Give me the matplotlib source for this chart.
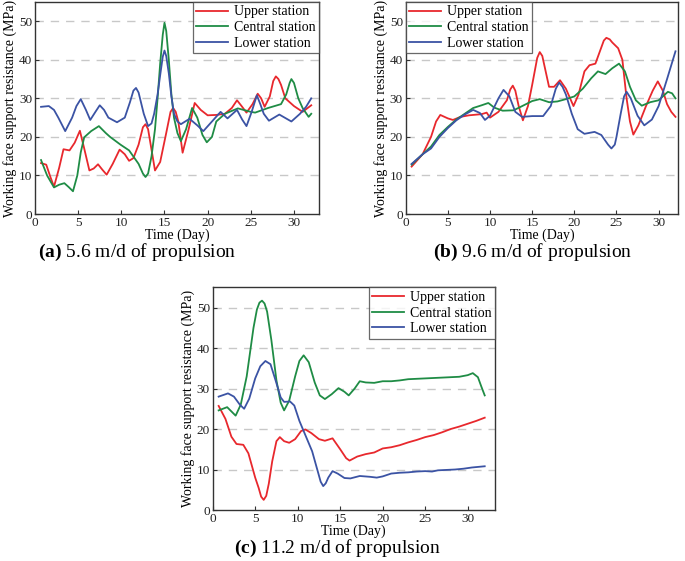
import numpy as np
import matplotlib
matplotlib.use('Agg')
from matplotlib import pyplot as plt

plt.rcParams['font.family'] = ['Liberation Serif', 'DejaVu Serif']
plt.rcParams['mathtext.fontset'] = 'custom'
plt.rcParams['mathtext.rm'] = 'Liberation Serif'
plt.rcParams['mathtext.bf'] = 'Liberation Serif:bold'

labels = ['Upper station', 'Central station', 'Lower station']
colors = ['#e8282d', '#1f8c45', '#3b53a4']

# (a) 5.6 m/d
a_up_x = [0.7, 1.3, 1.8, 2.2, 2.8, 3.3, 4.0, 4.6, 5.2, 5.7, 6.3, 6.8, 7.3, 7.8, 8.3, 9.0, 9.8, 10.4, 10.9, 11.4, 12.0, 12.5, 12.8, 13.1, 13.4, 13.9, 14.5, 15.2, 15.7, 16.0, 16.3, 16.6, 17.1, 17.8, 18.5, 19.2, 20.0, 21.0, 22.0, 22.8, 23.4, 24.0, 24.5, 25.2, 25.8, 26.2, 26.6, 27.2, 27.6, 27.9, 28.2, 28.5, 29.0, 30.0, 31.0, 32.0]
a_up_y = [13.2, 12.8, 9.5, 7.1, 12.0, 16.8, 16.5, 18.5, 21.6, 17.0, 11.3, 11.8, 12.9, 11.5, 10.2, 13.0, 16.7, 15.5, 13.8, 14.5, 18.0, 22.5, 23.3, 22.0, 18.0, 11.3, 13.5, 21.0, 26.5, 27.5, 26.5, 24.0, 15.9, 22.0, 28.8, 27.0, 25.6, 25.7, 26.0, 27.5, 29.5, 27.8, 26.3, 28.5, 31.2, 30.0, 27.8, 30.5, 34.5, 35.7, 35.0, 33.5, 30.0, 28.0, 26.5, 28.2]
a_mid_x = [0.7, 1.4, 2.2, 2.8, 3.4, 3.9, 4.4, 4.9, 5.3, 5.7, 6.5, 7.4, 8.2, 8.7, 9.9, 10.9, 12.0, 12.5, 12.8, 13.1, 13.5, 13.9, 14.2, 14.5, 14.8, 15.0, 15.2, 15.5, 15.8, 16.1, 16.5, 16.9, 17.5, 18.2, 18.8, 19.4, 19.9, 20.5, 21.0, 22.0, 23.5, 25.0, 25.5, 27.0, 28.5, 29.1, 29.5, 29.7, 30.0, 30.5, 31.0, 31.3, 31.7, 32.0]
a_mid_y = [14.0, 10.0, 6.9, 7.6, 8.0, 7.0, 5.9, 10.0, 16.0, 19.9, 21.5, 22.8, 21.0, 20.0, 18.0, 16.5, 13.0, 10.5, 9.6, 10.5, 15.0, 22.0, 30.0, 39.0, 46.5, 49.6, 47.5, 40.0, 31.0, 25.0, 21.0, 18.9, 22.0, 27.5, 25.0, 20.5, 18.6, 20.0, 24.0, 26.0, 27.4, 26.5, 26.3, 27.5, 28.5, 31.0, 34.0, 35.0, 34.0, 30.0, 27.5, 26.5, 25.2, 26.0]
a_low_x = [0.7, 1.6, 2.2, 2.7, 3.5, 4.3, 4.8, 5.3, 5.9, 6.4, 7.0, 7.5, 8.0, 8.5, 9.5, 10.4, 11.0, 11.4, 11.7, 12.0, 12.6, 13.1, 13.5, 13.8, 14.2, 14.5, 14.8, 15.0, 15.2, 15.5, 15.8, 16.1, 16.5, 16.9, 17.9, 18.8, 19.5, 20.5, 21.5, 22.3, 23.4, 24.0, 24.5, 25.1, 25.7, 26.1, 26.5, 27.1, 28.3, 29.7, 30.7, 31.4, 32.0]
a_low_y = [27.8, 28.0, 27.0, 25.0, 21.5, 25.0, 28.0, 29.8, 27.0, 24.4, 26.5, 28.2, 27.0, 25.0, 23.8, 25.0, 29.0, 32.0, 32.7, 31.5, 26.0, 22.8, 23.5, 26.0, 31.0, 36.0, 40.8, 42.4, 41.0, 36.5, 30.5, 26.0, 24.0, 23.3, 24.7, 23.0, 21.5, 24.0, 26.5, 24.8, 27.0, 24.5, 22.8, 26.5, 30.8, 28.5, 26.0, 24.2, 25.8, 24.0, 26.0, 27.8, 30.0]

# (b) 9.6 m/d
b_up_x = [0.7, 2.0, 3.0, 3.6, 4.1, 5.0, 5.6, 6.5, 7.5, 9.0, 9.6, 10.0, 11.0, 12.0, 12.4, 12.7, 13.0, 13.4, 13.9, 14.5, 15.0, 15.3, 15.6, 15.9, 16.2, 16.5, 17.0, 17.6, 18.3, 19.0, 19.5, 19.9, 20.5, 21.2, 21.8, 22.5, 23.0, 23.5, 23.8, 24.2, 24.5, 25.2, 25.7, 26.2, 26.6, 27.0, 27.6, 28.5, 29.3, 29.9, 30.5, 31.0, 31.5, 32.0]
b_up_y = [12.3, 15.5, 20.0, 24.0, 25.7, 24.8, 24.4, 25.2, 25.6, 25.9, 26.3, 25.0, 26.5, 29.5, 32.3, 33.3, 32.0, 28.0, 24.3, 28.0, 33.5, 37.0, 40.5, 42.0, 41.0, 38.0, 33.0, 33.0, 34.7, 32.5, 30.0, 28.0, 31.0, 37.0, 38.6, 39.0, 42.0, 45.0, 45.7, 45.3, 44.5, 43.0, 40.0, 30.0, 24.0, 20.6, 23.0, 28.0, 32.0, 34.4, 32.0, 28.5, 26.5, 25.2]
b_mid_x = [0.7, 2.0, 3.0, 4.0, 5.0, 6.0, 7.0, 8.0, 9.0, 9.8, 10.5, 11.5, 12.8, 14.0, 15.0, 15.9, 17.0, 18.0, 19.0, 20.0, 21.0, 22.0, 22.8, 23.7, 24.5, 25.3, 26.0, 26.6, 27.3, 28.0, 29.0, 30.0, 30.5, 31.1, 31.6, 32.0]
b_mid_y = [12.8, 15.5, 17.5, 20.5, 22.6, 24.5, 26.0, 27.5, 28.2, 28.8, 27.6, 26.8, 26.9, 28.2, 29.3, 29.8, 29.0, 29.2, 29.8, 30.5, 32.5, 35.2, 37.0, 36.3, 37.8, 39.0, 37.0, 33.0, 29.5, 28.1, 29.0, 29.5, 30.5, 31.7, 31.3, 30.0]
b_low_x = [0.7, 2.0, 3.0, 4.0, 5.0, 6.0, 7.0, 8.0, 8.8, 9.4, 10.0, 11.0, 11.6, 12.3, 13.0, 13.8, 15.0, 16.3, 17.2, 17.8, 18.2, 18.6, 19.0, 19.7, 20.4, 21.2, 22.4, 23.2, 24.0, 24.4, 24.8, 25.0, 25.5, 25.9, 26.2, 26.7, 27.5, 28.3, 29.2, 30.0, 31.0, 32.0]
b_low_y = [13.0, 15.5, 17.0, 20.0, 22.3, 24.3, 25.8, 27.0, 26.2, 24.4, 25.5, 30.0, 32.2, 30.5, 26.5, 25.2, 25.4, 25.4, 28.0, 32.5, 34.1, 33.0, 31.0, 26.0, 22.0, 20.8, 21.3, 20.5, 18.0, 17.0, 18.0, 20.0, 26.0, 30.5, 31.7, 30.0, 25.5, 23.0, 24.5, 28.0, 35.0, 42.2]

# (c) 11.2 m/d
c_up_x = [0.7, 1.5, 2.2, 2.8, 3.6, 4.2, 5.0, 5.4, 5.7, 6.0, 6.3, 6.6, 7.0, 7.5, 7.9, 8.4, 9.0, 9.7, 10.4, 10.9, 11.6, 12.5, 13.2, 14.1, 15.0, 15.7, 16.1, 17.0, 18.0, 19.0, 20.0, 21.0, 22.0, 23.0, 24.0, 25.0, 26.0, 27.0, 28.0, 29.0, 30.0, 31.0, 32.0]
c_up_y = [25.7, 22.5, 18.1, 16.3, 16.1, 14.0, 8.0, 5.5, 3.3, 2.5, 3.5, 6.5, 12.0, 17.0, 18.0, 17.0, 16.6, 17.5, 19.5, 19.9, 19.0, 17.5, 17.1, 17.7, 15.0, 12.8, 12.2, 13.2, 13.8, 14.2, 15.2, 15.5, 16.0, 16.7, 17.3, 18.0, 18.5, 19.2, 20.0, 20.6, 21.3, 22.0, 22.8]
c_mid_x = [0.7, 1.7, 2.7, 3.3, 4.0, 4.8, 5.2, 5.5, 5.8, 6.1, 6.4, 6.9, 7.5, 8.0, 8.4, 9.0, 9.7, 10.2, 10.7, 11.3, 12.0, 12.6, 13.2, 14.0, 14.8, 15.5, 16.0, 16.7, 17.3, 18.0, 19.0, 20.0, 21.0, 22.0, 23.0, 24.0, 25.0, 26.0, 27.0, 28.0, 29.0, 30.0, 30.6, 31.2, 31.6, 32.0]
c_mid_y = [24.6, 25.4, 23.3, 26.0, 33.0, 45.0, 49.5, 51.2, 51.7, 51.0, 49.0, 42.0, 32.0, 26.5, 24.6, 27.0, 33.0, 36.8, 38.2, 36.5, 31.5, 28.3, 27.4, 28.6, 30.1, 29.2, 28.3, 30.0, 31.8, 31.5, 31.4, 31.8, 31.8, 32.0, 32.3, 32.4, 32.5, 32.6, 32.7, 32.8, 32.9, 33.3, 33.8, 32.8, 30.5, 28.3]
c_low_x = [0.7, 1.8, 2.5, 3.2, 3.7, 4.3, 5.0, 5.6, 6.2, 6.8, 7.4, 8.0, 8.4, 9.1, 9.6, 10.2, 11.0, 11.7, 12.3, 12.7, 13.0, 13.3, 13.6, 14.1, 14.7, 15.5, 16.2, 17.3, 18.5, 19.3, 20.0, 21.0, 22.0, 23.0, 24.0, 25.0, 25.8, 26.5, 27.5, 28.5, 29.5, 30.5, 32.0]
c_low_y = [28.0, 28.8, 28.0, 26.0, 25.0, 27.5, 32.5, 35.5, 36.8, 36.0, 32.0, 27.8, 26.7, 26.8, 25.8, 22.0, 18.0, 14.5, 10.0, 7.0, 5.9, 6.6, 8.0, 9.6, 9.0, 7.9, 7.8, 8.4, 8.2, 8.0, 8.3, 9.0, 9.2, 9.3, 9.5, 9.6, 9.5, 9.8, 9.9, 10.0, 10.2, 10.5, 10.8]

panels = [
    ([(a_up_x, a_up_y), (a_mid_x, a_mid_y), (a_low_x, a_low_y)],
     [0.0511, 0.6185, 0.4146, 0.378], 32.9, 'upper right',
     r'$\mathbf{(a)}$ 5.6 m/d of propulsion', (0.200, 0.550)),
    ([(b_up_x, b_up_y), (b_mid_x, b_mid_y), (b_low_x, b_low_y)],
     [0.5923, 0.6185, 0.3975, 0.378], 32.3, 'upper left',
     r'$\mathbf{(b)}$ 9.6 m/d of propulsion', (0.778, 0.550)),
    ([(c_up_x, c_up_y), (c_mid_x, c_mid_y), (c_low_x, c_low_y)],
     [0.3105, 0.0909, 0.412, 0.397], 33.2, 'upper right',
     r'$\mathbf{(c)}$ 11.2 m/d of propulsion', (0.493, 0.022)),
]

fig = plt.figure(figsize=(6.85, 5.61), dpi=100)

for series, pos, xmax, loc, caption, cap_xy in panels:
    ax = fig.add_axes(pos)
    for (x, y), lab, col in zip(series, labels, colors):
        ax.plot(x, y, color=col, lw=1.3, label=lab, solid_joinstyle='round')
    ax.set_xlim(0, xmax)
    ax.set_ylim(0, 55)
    ax.set_xticks([0, 5, 10, 15, 20, 25, 30])
    ax.set_yticks([0, 10, 20, 30, 40, 50])
    for g in [10, 20, 30, 40, 50]:
        ax.axhline(g, color='#c8c8c8', lw=1.0, ls=(0, (6, 5)), zorder=0)
    ax.tick_params(direction='in', length=3, width=0.8, labelsize=9.5, pad=2,
                   color='#333333', labelcolor='#222222')
    for s in ax.spines.values():
        s.set_color('#333333')
        s.set_linewidth(1.0)
    ax.set_xlabel('Time (Day)', fontsize=10, labelpad=0)
    ax.set_ylabel('Working face support resistance (MPa)', fontsize=10, labelpad=1)
    leg = ax.legend(loc=loc, fontsize=10, frameon=True, fancybox=False, borderaxespad=0,
                    handlelength=2.3, labelspacing=0.2, borderpad=0.25, handletextpad=0.4)
    leg.get_frame().set_edgecolor('#444444')
    leg.get_frame().set_linewidth(0.9)
    fig.text(cap_xy[0], cap_xy[1], caption, fontsize=14, ha='center', va='center')

plt.savefig('out.png', dpi=100)
